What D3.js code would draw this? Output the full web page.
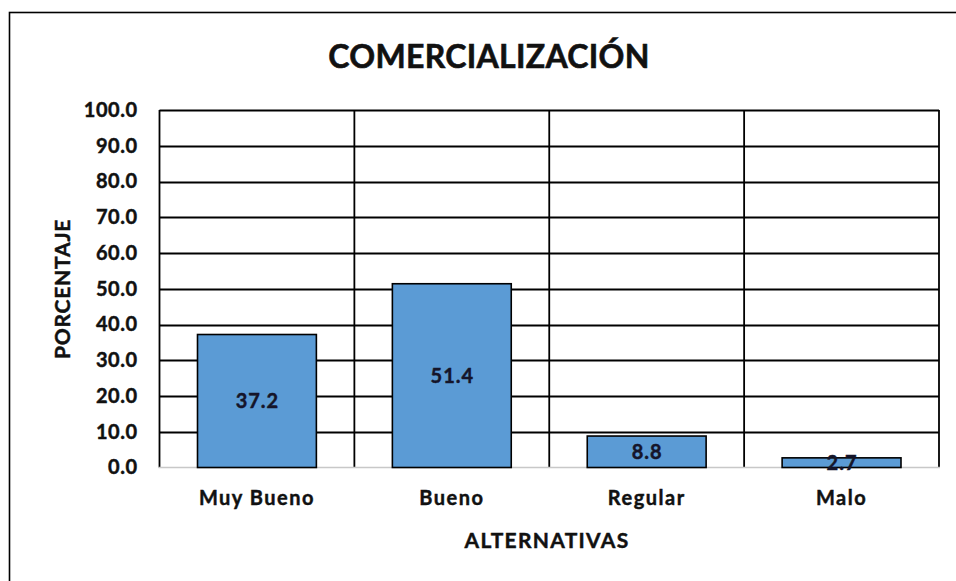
<!DOCTYPE html>
<html>
<head>
<meta charset="utf-8">
<script src="https://cdn.jsdelivr.net/npm/d3@7"></script>
<style>
  html, body { margin: 0; padding: 0; background: #fff; }
  svg { display: block; }
  text { font-family: Lato, "Open Sans", sans-serif; font-weight: 700; fill: #111; stroke: #111; stroke-width: 0.45px; }
</style>
</head>
<body>
<svg id="chart" width="956" height="581"></svg>
<script>
// Chart data
const categories = ["Muy Bueno", "Bueno", "Regular", "Malo"];
const values = [37.2, 51.4, 8.8, 2.7];
const yTicks = [0, 10, 20, 30, 40, 50, 60, 70, 80, 90, 100];
const title = "COMERCIALIZACIÓN";
const xTitle = "ALTERNATIVAS";
const yTitle = "PORCENTAJE";

const svg = d3.select("#chart");
const plot = { left: 159.5, right: 939, top: 110, bottom: 467.5 };

// Outer chart frame (runs past the right and bottom edges)
svg.append("rect")
  .attr("x", 9.5).attr("y", 12.5)
  .attr("width", 1000).attr("height", 1000)
  .attr("fill", "#fff").attr("stroke", "#000").attr("stroke-width", 1.6);

const x = d3.scaleBand()
  .domain(categories)
  .range([plot.left, plot.right])
  .paddingInner(0.39)
  .paddingOuter(0.195);

const y = d3.scaleLinear().domain([0, 100]).range([plot.bottom, plot.top]);

// Horizontal gridlines
svg.append("g")
  .selectAll("line")
  .data(yTicks.filter(d => d > 0))
  .join("line")
  .attr("x1", plot.left).attr("x2", plot.right)
  .attr("y1", d => Math.round(y(d)) + 0.5).attr("y2", d => Math.round(y(d)) + 0.5)
  .attr("stroke", "#000").attr("stroke-width", 1.8);

// Vertical category separators
const seps = d3.range(categories.length + 1).map(i => plot.left + i * (plot.right - plot.left) / categories.length);
svg.append("g")
  .selectAll("line")
  .data(seps)
  .join("line")
  .attr("x1", d => d).attr("x2", d => d)
  .attr("y1", plot.top).attr("y2", plot.bottom)
  .attr("stroke", "#000").attr("stroke-width", 1.8);

// Baseline
svg.append("line")
  .attr("x1", plot.left - 1).attr("x2", plot.right + 1)
  .attr("y1", plot.bottom).attr("y2", plot.bottom)
  .attr("stroke", "#c8c8c8").attr("stroke-width", 1.5);

// Bars
svg.append("g")
  .selectAll("rect")
  .data(values)
  .join("rect")
  .attr("x", (d, i) => x(categories[i]))
  .attr("width", x.bandwidth())
  .attr("y", d => y(d))
  .attr("height", d => y(0) - y(d))
  .attr("fill", "#5B9BD5")
  .attr("stroke", "#000").attr("stroke-width", 1.6);

// Value labels, centred inside each bar
svg.append("g")
  .selectAll("text")
  .data(values)
  .join("text")
  .attr("x", (d, i) => x(categories[i]) + x.bandwidth() / 2 + 0.5)
  .attr("y", d => (y(d) + y(0)) / 2)
  .attr("dy", "0.36em")
  .attr("text-anchor", "middle")
  .attr("font-size", 20)
  .attr("letter-spacing", 1)
  .style("fill", "#15152a").style("stroke", "#15152a")
  .text(d => d.toFixed(1));

// Y axis tick labels
const yAxis = d3.axisLeft(y).tickValues(yTicks).tickFormat(d3.format(".1f")).tickSize(0).tickPadding(22);
const gy = svg.append("g").attr("transform", `translate(${plot.left},0)`).call(yAxis);
gy.select(".domain").remove();
gy.selectAll("text").attr("font-size", 20).attr("font-family", null).attr("letter-spacing", 0.5);

// X axis category labels
const xAxis = d3.axisBottom(x).tickSize(0).tickPadding(23);
const gx = svg.append("g").attr("transform", `translate(0,${plot.bottom})`).call(xAxis);
gx.select(".domain").remove();
gx.selectAll("text").attr("font-size", 20).attr("font-family", null).attr("letter-spacing", 1.5);

// Titles
svg.append("text")
  .attr("x", 489).attr("y", 56).attr("dy", "0.36em")
  .attr("text-anchor", "middle").attr("font-size", 32)
  .attr("letter-spacing", 0.3)
  .style("stroke-width", "0.6px")
  .text(title);

svg.append("text")
  .attr("x", 547).attr("y", 540).attr("dy", "0.36em")
  .attr("text-anchor", "middle").attr("font-size", 21)
  .attr("letter-spacing", 1.3)
  .text(xTitle);

svg.append("text")
  .attr("transform", "translate(62,289) rotate(-90)")
  .attr("dy", "0.36em")
  .attr("text-anchor", "middle").attr("font-size", 21)
  .attr("letter-spacing", 0.8)
  .text(yTitle);
</script>
</body>
</html>
